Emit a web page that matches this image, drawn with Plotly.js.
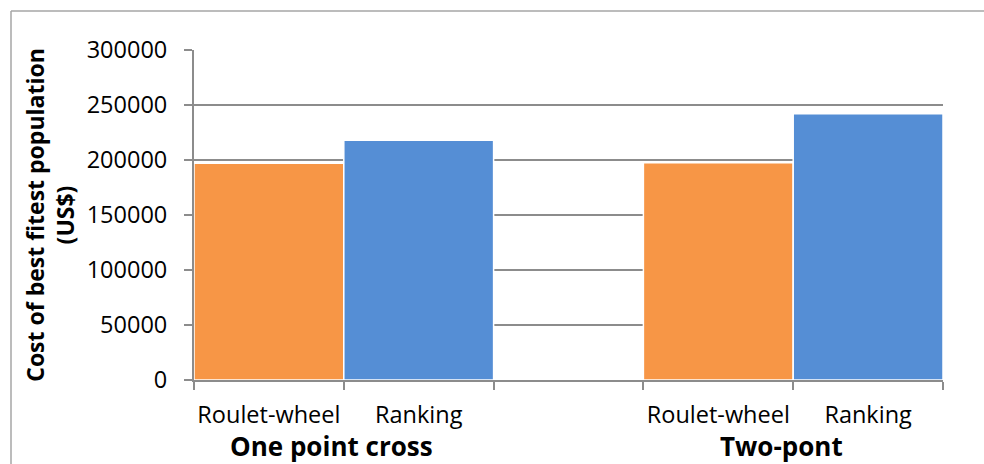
<!DOCTYPE html>
<html>
<head>
<meta charset="utf-8">
<script src="https://cdn.plot.ly/plotly-3.0.1.min.js"></script>
<style>html,body{margin:0;padding:0;background:#fff;}#chart{width:984px;height:464px;}</style>
</head>
<body>
<div id="chart"></div>
<script>
// Data
const groups = ["One point cross", "Two-pont"];
const methods = ["Roulet-wheel", "Ranking"];
const rouletteValues = [197000, 197500];
const rankingValues = [218000, 242000];
const yTicks = [0, 50000, 100000, 150000, 200000, 250000, 300000];
const yTitle = "Cost of best fitest population<br>(US$)";

const slotsPerGroup = methods.length + 1; // one empty slot between groups
const pos = (g, m) => g * slotsPerGroup + m;

const xRoulette = groups.map((_, g) => pos(g, 0));
const xRanking = groups.map((_, g) => pos(g, 1));
const centers = [], centerText = [];
groups.forEach((_, g) => methods.forEach((m, i) => { centers.push(pos(g, i)); centerText.push(m); }));
const nSlots = groups.length * slotsPerGroup - 1;
const boundaries = [];
for (let i = 0; i <= nSlots; i++) boundaries.push(i - 0.5);

const FONT = "Open Sans, Noto Sans, sans-serif";
const GRID = "#8c8c8c";

const traces = [
  {type: "bar", x: xRoulette, y: rouletteValues, name: methods[0], width: 1,
   marker: {color: "#F79646", line: {color: "#ffffff", width: 1.5}}, hoverinfo: "skip"},
  {type: "bar", x: xRanking, y: rankingValues, name: methods[1], width: 1,
   marker: {color: "#558ED5", line: {color: "#ffffff", width: 1.5}}, hoverinfo: "skip"}
];

const annotations = groups.map((gname, g) => ({
  text: gname, x: pos(g, 0.5), xref: "x", xshift: -12, y: -0.2, yref: "paper",
  xanchor: "center", yanchor: "middle", showarrow: false,
  font: {family: FONT, size: 26, color: "#000", weight: 700}
}));

const layout = {
  width: 984, height: 464,
  margin: {l: 194, r: 41, t: 50, b: 84},
  paper_bgcolor: "#fff", plot_bgcolor: "#fff",
  showlegend: false,
  barmode: "overlay",
  font: {family: FONT, size: 23, color: "#000"},
  xaxis: {
    range: [-0.5, nSlots - 0.5], tickmode: "array", tickvals: centers, ticktext: centerText,
    ticks: "", showgrid: false, zeroline: false,
    showline: true, linecolor: GRID, linewidth: 2,
    ticklabelstandoff: 13,
    tickfont: {family: FONT, size: 23.5, color: "#000"},
    minor: {tickmode: "array", tickvals: boundaries, ticks: "outside", ticklen: 8, tickwidth: 2, tickcolor: GRID, showgrid: false}
  },
  yaxis: {
    range: [0, 300000], tickmode: "array", tickvals: yTicks, tickformat: "d",
    ticks: "outside", ticklen: 8, tickwidth: 2, tickcolor: GRID,
    showgrid: true, gridcolor: GRID, gridwidth: 2, zeroline: false,
    showline: true, linecolor: GRID, linewidth: 2,
    ticklabelstandoff: 12,
    tickfont: {family: FONT, size: 23.5, color: "#000"},
    title: {text: yTitle, standoff: 6, font: {family: FONT, size: 23, color: "#000", weight: 700}}
  },
  annotations: annotations,
  shapes: [
    {type: "line", xref: "paper", yref: "paper", x0: (11 - 194) / 749, x1: 1.1, y0: (380 - 11) / 330, y1: (380 - 11) / 330,
     line: {color: "#a6a6a6", width: 1.5}, layer: "below"},
    {type: "line", xref: "paper", yref: "paper", x0: (11 - 194) / 749, x1: (11 - 194) / 749, y0: (380 - 11) / 330, y1: -0.4,
     line: {color: "#a6a6a6", width: 1.5}, layer: "below"}
  ]
};

Plotly.newPlot("chart", traces, layout, {staticPlot: true, displayModeBar: false});
</script>
</body>
</html>
